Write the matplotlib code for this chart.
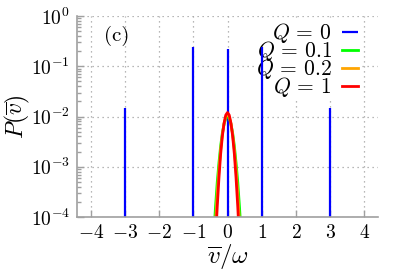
import matplotlib
matplotlib.use("Agg")
import matplotlib.pyplot as plt

plt.rcParams['mathtext.fontset'] = 'cm'
plt.rcParams['font.family'] = 'serif'
plt.rcParams['font.serif'] = ['cmr10']
plt.rcParams['axes.formatter.use_mathtext'] = True

# Q = 0: delta spikes
spike_x = [-3, -1, 0, 1, 3]
spike_p = [0.015, 0.245, 0.225, 0.245, 0.015]

# Gaussian-like curves
gx = [-0.4, -0.35, -0.3, -0.25, -0.2, -0.15, -0.1, -0.05, 0.0,
      0.05, 0.1, 0.15, 0.2, 0.25, 0.3, 0.35, 0.4]
p_q01 = [4.6e-5, 1.6e-4, 4.9e-4, 1.2e-3, 2.6e-3, 4.7e-3, 7.1e-3, 9.2e-3, 1.0e-2,
         9.2e-3, 7.1e-3, 4.7e-3, 2.6e-3, 1.2e-3, 4.9e-4, 1.6e-4, 4.6e-5]
p_q02 = [1.7e-5, 7.9e-5, 2.9e-4, 8.9e-4, 2.2e-3, 4.4e-3, 7.3e-3, 9.9e-3, 1.1e-2,
         9.9e-3, 7.3e-3, 4.4e-3, 2.2e-3, 8.9e-4, 2.9e-4, 7.9e-5, 1.7e-5]
p_q1 = [5.6e-6, 3.4e-5, 1.6e-4, 6.0e-4, 1.8e-3, 4.1e-3, 7.4e-3, 1.07e-2, 1.2e-2,
        1.07e-2, 7.4e-3, 4.1e-3, 1.8e-3, 6.0e-4, 1.6e-4, 3.4e-5, 5.6e-6]

labels = [r'$Q\,=\,0$', r'$Q\,=\,0.1$', r'$Q\,=\,0.2$', r'$Q\,=\,1$']
colors = ['#0000ff', '#00ff00', '#ffa500', '#ff0000']

xticks = [-4, -3, -2, -1, 0, 1, 2, 3, 4]

fig = plt.figure(figsize=(4.07, 2.71), dpi=100)
ax = fig.add_axes([77/407, 1 - 217/271, (378-77)/407, (217-16)/271])

ax.vlines(spike_x, 1e-5, spike_p, color=colors[0], lw=1.6, label=labels[0], zorder=2)
ax.plot(gx, p_q01, color=colors[1], lw=2.0, label=labels[1], zorder=2)
ax.plot(gx, p_q02, color=colors[2], lw=2.0, label=labels[2], zorder=2)
ax.plot(gx, p_q1, color=colors[3], lw=2.0, label=labels[3], zorder=2)

ax.set_yscale('log')
ax.set_ylim(1e-4, 1)
ax.set_xlim(-4.4, 4.4)
ax.set_xticks(xticks)
ax.set_xticklabels([r'$%d$' % v if v >= 0 else r'$-%d$' % -v for v in xticks])
ax.set_yticks([1e-4, 1e-3, 1e-2, 1e-1, 1])

for s in ['top', 'right']:
    ax.spines[s].set_visible(False)
for s in ['left', 'bottom']:
    ax.spines[s].set_color('#a0a0a0')
    ax.spines[s].set_linewidth(1.2)

ax.tick_params(which='major', direction='in', length=5, width=1, color='#a0a0a0',
               labelsize=14, pad=5)
ax.tick_params(which='minor', direction='in', length=3, width=1, color='#a0a0a0')
ax.tick_params(axis='x', which='minor', bottom=False)
ax.grid(True, which='major', linestyle=(0, (1, 3)), color='#a0a0a0', lw=0.9)
ax.set_axisbelow(True)

ax.set_xlabel(r'$\overline{v}/\omega$', fontsize=18, labelpad=0)
ax.set_ylabel(r'$P(\overline{v})$', fontsize=17, labelpad=-1)

ax.text(0.133, 0.90, '(c)', transform=ax.transAxes, fontsize=15,
        ha='center', va='center')

leg = ax.legend(loc='upper right', bbox_to_anchor=(0.94, 0.985), markerfirst=False,
                frameon=True, fancybox=False, edgecolor='none', framealpha=1,
                fontsize=15.5, handlelength=0.75, handletextpad=0.45,
                labelspacing=-0.28, borderpad=0.1, borderaxespad=0)
leg.set_zorder(1.5)

fig.savefig('out.png', dpi=100)
